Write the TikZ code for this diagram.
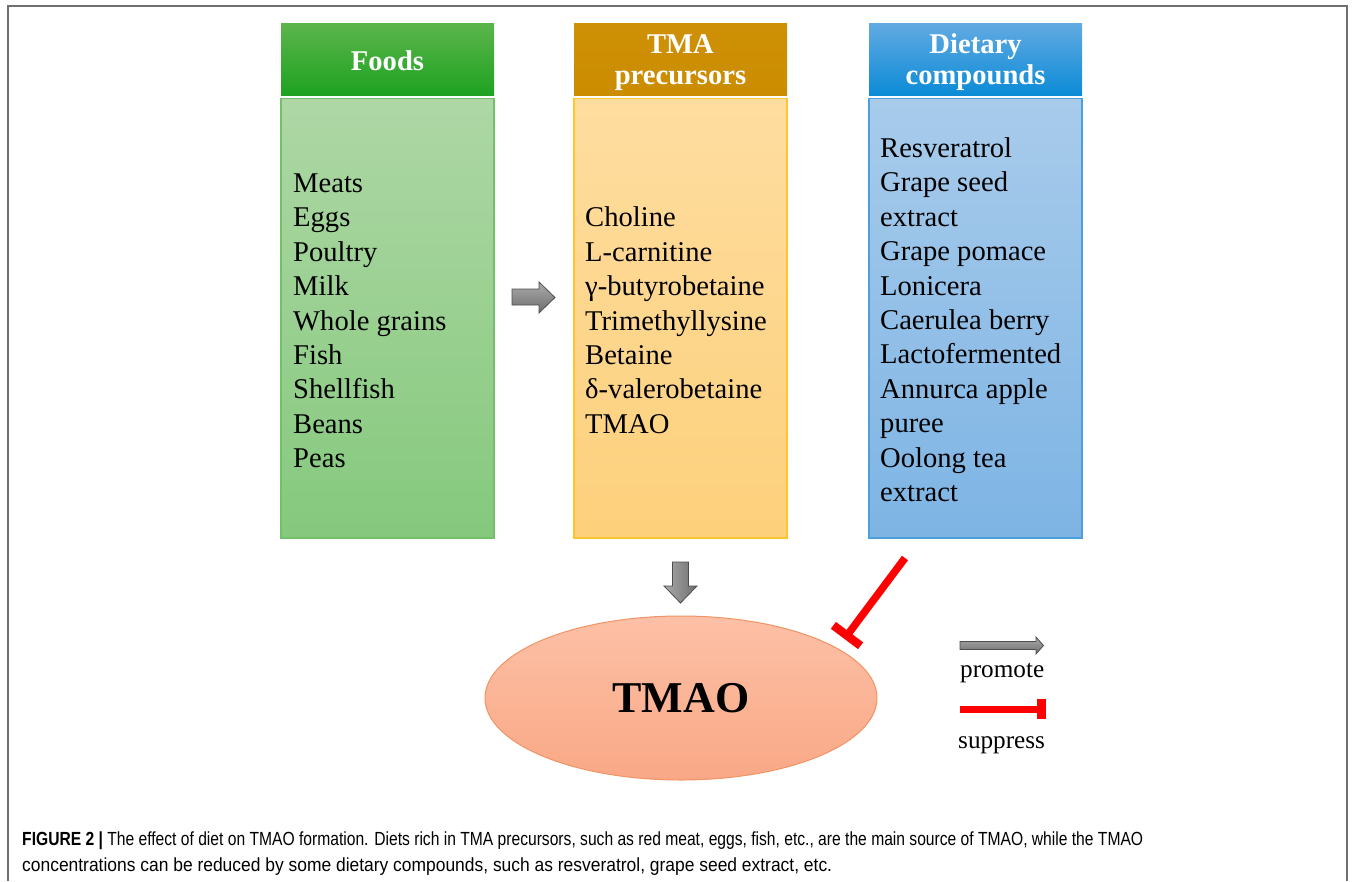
\documentclass[tikz,border=0pt]{standalone}
\usepackage{fontspec}
\setmainfont{Liberation Serif}
\newfontfamily\capfont{Liberation Sans}
\usetikzlibrary{shapes.geometric}
\definecolor{fhTop}{RGB}{92,181,76}
\definecolor{fhBot}{RGB}{30,162,32}
\definecolor{fbTop}{RGB}{174,215,165}
\definecolor{fbBot}{RGB}{133,201,125}
\definecolor{fbLine}{RGB}{116,192,106}
\definecolor{thTop}{RGB}{206,144,6}
\definecolor{thBot}{RGB}{203,140,0}
\definecolor{tbTop}{RGB}{254,221,160}
\definecolor{tbBot}{RGB}{253,208,123}
\definecolor{tbLine}{RGB}{255,197,46}
\definecolor{dhTop}{RGB}{98,170,226}
\definecolor{dhBot}{RGB}{11,139,214}
\definecolor{dbTop}{RGB}{168,203,235}
\definecolor{dbBot}{RGB}{125,180,228}
\definecolor{dbLine}{RGB}{75,159,221}
\definecolor{elTop}{RGB}{253,192,166}
\definecolor{elBot}{RGB}{249,168,134}
\definecolor{elLine}{RGB}{241,148,101}
\definecolor{arTop}{RGB}{170,170,170}
\definecolor{arBot}{RGB}{110,110,110}
\definecolor{arLine}{RGB}{77,77,77}
\definecolor{frameGray}{RGB}{112,112,112}
\definecolor{supRed}{RGB}{255,0,0}
\newsavebox\capboxA
\newsavebox\capboxB
\newcommand\capLineA{{\bfseries FIGURE 2 |} The effect of diet on TMAO formation. Diets rich in TMA precursors, such as red meat, eggs, fish, etc., are the main source of TMAO, while the TMAO}
\newcommand\capLineB{concentrations can be reduced by some dietary compounds, such as resveratrol, grape seed extract, etc.}
\newcommand\capFont{\capfont\fontsize{19}{22}\selectfont}
\begin{document}
\sbox\capboxA{\capFont\capLineA}%
\sbox\capboxB{\capFont\capLineB}%
\pgfmathsetmacro\capscaleA{1121/\the\wd\capboxA}%
\pgfmathsetmacro\capscaleB{810/\the\wd\capboxB}%
\begin{tikzpicture}[x=1pt,y=-1pt,
  hdrbox/.style={minimum width=213pt, minimum height=72.5pt, inner sep=0pt, draw=none},
  bodybox/.style={minimum width=213pt, minimum height=439.5pt, inner sep=0pt, line width=1.2pt},
  hdrtext/.style={text=white, font=\bfseries\fontsize{28.6}{31}\selectfont, inner sep=0pt, anchor=base},
  listtext/.style={font=\fontsize{28.6}{34.4}\selectfont, inner sep=0pt, anchor=base west},
  legtext/.style={font=\fontsize{25.2}{30}\selectfont, inner sep=0pt, anchor=base west},
  fatarrow/.style={top color=arTop, bottom color=arBot, draw=arLine, line width=0.8pt, line join=miter},
  captext/.style={inner sep=0pt, anchor=base west}]
\useasboundingbox (0,0) rectangle (1354,881);
% frame
\draw[frameGray, line width=1.5pt] (8,881) -- (8,6) -- (1347,6) -- (1347,881);
% headers
\node[hdrbox, top color=fhTop, bottom color=fhBot] (fh) at (387.5,59.25) {};
\node[hdrbox, top color=thTop, bottom color=thBot] (th) at (680.5,59.25) {};
\node[hdrbox, top color=dhTop, bottom color=dhBot] (dh) at (975.5,59.25) {};
\node[hdrtext] (fht) at (387.5,70) {Foods};
\node[hdrtext] (tht1) at (680.5,53) {TMA};
\node[hdrtext] (tht2) at (680.5,84) {precursors};
\node[hdrtext] (dht1) at (975.5,53) {Dietary};
\node[hdrtext] (dht2) at (975.5,84) {compounds};
% bodies
\node[bodybox, top color=fbTop, bottom color=fbBot, draw=fbLine] (fb) at (387.5,318.25) {};
\node[bodybox, top color=tbTop, bottom color=tbBot, draw=tbLine] (tb) at (680.5,318.25) {};
\node[bodybox, top color=dbTop, bottom color=dbBot, draw=dbLine] (db) at (975.5,318.25) {};
% lists
\foreach \t [count=\i from 0] in {Meats,Eggs,Poultry,Milk,Whole grains,Fish,Shellfish,Beans,Peas}
  \node[listtext] (fl\i) at (293,{192.5+34.4*\i}) {\t};
\foreach \t [count=\i from 0] in {Choline,L-carnitine,γ-butyrobetaine,Trimethyllysine,Betaine,δ-valerobetaine,TMAO}
  \node[listtext] (tl\i) at (585,{226.9+34.4*\i}) {\t};
\foreach \t [count=\i from 0] in {Resveratrol,Grape seed,extract,Grape pomace,Lonicera,Caerulea berry,Lactofermented,Annurca apple,puree,Oolong tea,extract}
  \node[listtext] (dl\i) at (880,{157.5+34.4*\i}) {\t};
% fat arrows
\path[fatarrow] (512,289) -- (539,289) -- (539,282) -- (555,297.5) -- (539,313) -- (539,305) -- (512,305) -- cycle;
\path[fatarrow, left color=arTop, right color=arBot] (672.5,562) -- (688.5,562) -- (688.5,586) -- (697,586) -- (680.5,603) -- (664,586) -- (672.5,586) -- cycle;
% TMAO ellipse
\node[ellipse, minimum width=392pt, minimum height=164pt, inner sep=0pt, top color=elTop, bottom color=elBot, draw=elLine, line width=1pt, font=\bfseries\fontsize{44}{50}\selectfont] (tmao) at (681,698) {TMAO};
% suppress connector
\coordinate (supA) at (905,558);
\coordinate (supB) at (847,635.5);
\coordinate (supC) at (833.4,625.3);
\coordinate (supD) at (860.6,645.7);
\draw[supRed, line width=7.5pt] (supA) -- (supB);
\draw[supRed, line width=8.5pt] (supC) -- (supD);
% legend
\path[fatarrow] (960,641.5) -- (1036,641.5) -- (1036,637) -- (1043.5,645.5) -- (1036,654) -- (1036,649.5) -- (960,649.5) -- cycle;
\node[legtext] (lgp) at (960,677) {promote};
\coordinate (lgsA) at (960,709.5);
\coordinate (lgsB) at (1041,709.5);
\draw[supRed, line width=7pt] (lgsA) -- (lgsB);
\fill[supRed] (1037,699) rectangle (1046,719);
\node[legtext] (lgs) at (958,748) {suppress};
% caption
\node[captext] (cap1) at (22,845) {\scalebox{\capscaleA}[1]{\capFont\capLineA}};
\node[captext] (cap2) at (22,871) {\scalebox{\capscaleB}[1]{\capFont\capLineB}};
\end{tikzpicture}
\end{document}
